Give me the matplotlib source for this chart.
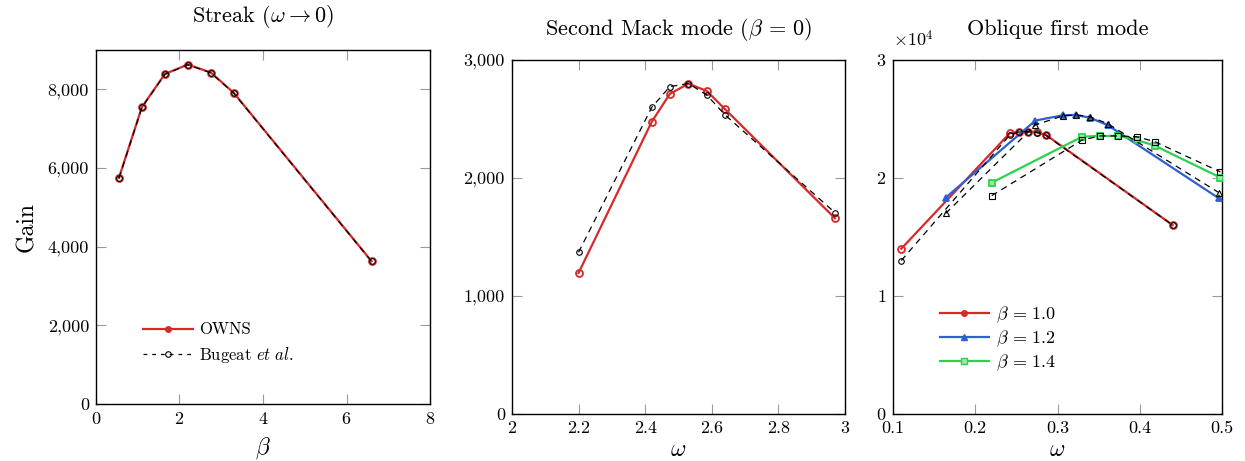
import matplotlib
matplotlib.use("Agg")
import matplotlib.pyplot as plt
from matplotlib.ticker import FuncFormatter, MultipleLocator

plt.rcParams.update({
    "font.family": "serif",
    "font.serif": ["cmr10"],
    "mathtext.fontset": "cm",
    "axes.formatter.use_mathtext": True,
    "axes.unicode_minus": False,
    "font.size": 13,
})

RED = "#d62a2a"
BLUE = "#2e5fd3"
GREEN = "#2bd24f"

# streak (omega -> 0)
streak_beta = [0.55, 1.1, 1.65, 2.2, 2.75, 3.3, 6.6]
streak_owns = [5750, 7550, 8390, 8630, 8425, 7910, 3630]
streak_bugeat = [5740, 7540, 8380, 8625, 8420, 7900, 3625]

# second Mack mode (beta = 0)
mack_omega = [2.2, 2.42, 2.474, 2.53, 2.585, 2.64, 2.97]
mack_owns = [1195, 2477, 2712, 2799, 2737, 2582, 1658]
mack_bugeat = [1370, 2599, 2774, 2800, 2703, 2534, 1706]

# oblique first mode, gains in units of 1e4
obl_omega_10 = [0.11, 0.242, 0.253, 0.264, 0.275, 0.286, 0.44]
obl_owns_10 = [1.40, 2.38, 2.39, 2.392, 2.387, 2.364, 1.60]
obl_bugeat_10 = [1.30, 2.364, 2.39, 2.392, 2.385, 2.36, 1.60]

obl_omega_12 = [0.164, 0.273, 0.306, 0.322, 0.339, 0.361, 0.496]
obl_owns_12 = [1.833, 2.486, 2.531, 2.534, 2.511, 2.447, 1.828]
obl_bugeat_12 = [1.70, 2.449, 2.525, 2.534, 2.52, 2.46, 1.876]

obl_omega_14 = [0.22, 0.33, 0.352, 0.374, 0.396, 0.418, 0.498]
obl_owns_14 = [1.96, 2.35, 2.356, 2.356, 2.322, 2.274, 2.003]
obl_bugeat_14 = [1.85, 2.322, 2.356, 2.356, 2.35, 2.308, 2.051]


def style_axes(ax):
    ax.tick_params(direction="in", top=True, right=True, length=7,
                   width=0.8, color="#9a9a9a", labelsize=13, pad=5)
    for s in ax.spines.values():
        s.set_linewidth(1.0)


def owns(ax, x, y, color, marker="o", **kw):
    face = "none" if marker == "o" else color
    return ax.plot(x, y, color=color, lw=1.6, marker=marker, ms=5,
                   mfc=face, mec=color, mew=1.3, zorder=3, **kw)[0]


def bugeat(ax, x, y, marker="o", **kw):
    return ax.plot(x, y, color="black", lw=0.9, ls=(0, (5, 4)), marker=marker,
                   ms=4, mfc="none", mec="black", mew=0.8, zorder=4, **kw)[0]


fig = plt.figure(figsize=(12.45, 4.61), dpi=100)
ax1 = fig.add_axes([0.0771, 0.1236, 0.2683, 0.768])
ax2 = fig.add_axes([0.4112, 0.1020, 0.2675, 0.768])
ax3 = fig.add_axes([0.7173, 0.1020, 0.2643, 0.768])

comma = FuncFormatter(lambda v, p: f"{v:,.0f}")

# panel 1
bugeat(ax1, streak_beta, streak_bugeat)
owns(ax1, streak_beta, streak_owns, RED)
ax1.set_xlim(0, 8)
ax1.set_ylim(0, 9000)
ax1.xaxis.set_major_locator(MultipleLocator(2))
ax1.yaxis.set_major_locator(MultipleLocator(2000))
ax1.yaxis.set_major_formatter(comma)
ax1.set_xlabel(r"$\beta$", fontsize=17, labelpad=6)
ax1.set_ylabel("Gain", fontsize=17, labelpad=7)
ax1.set_title(r"Streak ($\omega \to 0$)", fontsize=16, pad=20)
style_axes(ax1)
lh_own = plt.Line2D([], [], color=RED, lw=1.6, marker="o", ms=4, mfc=RED, mec=RED)
lh_bug = plt.Line2D([], [], color="black", lw=0.9, ls=(0, (3, 4)), marker="o",
                    ms=4, mfc="none", mec="black", mew=0.8)
ax1.legend([lh_own, lh_bug], ["OWNS", r"Bugeat $\it{et\ al.}$"], frameon=False,
           loc="upper left", bbox_to_anchor=(0.115, 0.255), fontsize=12,
           handlelength=3.0, handletextpad=0.4, labelspacing=0.45, borderpad=0)

# panel 2
bugeat(ax2, mack_omega, mack_bugeat)
owns(ax2, mack_omega, mack_owns, RED)
ax2.set_xlim(2, 3)
ax2.set_ylim(0, 3000)
ax2.set_xticks([2, 2.2, 2.4, 2.6, 2.8, 3])
ax2.set_xticklabels(["2", "2.2", "2.4", "2.6", "2.8", "3"])
ax2.yaxis.set_major_locator(MultipleLocator(1000))
ax2.yaxis.set_major_formatter(comma)
ax2.set_xlabel(r"$\omega$", fontsize=17, labelpad=2)
ax2.set_title(r"Second Mack mode ($\beta \,=\, 0$)", fontsize=16, pad=18)
style_axes(ax2)

# panel 3
bugeat(ax3, obl_omega_10, obl_bugeat_10, marker="o")
bugeat(ax3, obl_omega_12, obl_bugeat_12, marker="^")
bugeat(ax3, obl_omega_14, obl_bugeat_14, marker="s")
owns(ax3, obl_omega_10, obl_owns_10, RED, marker="o")
owns(ax3, obl_omega_12, obl_owns_12, BLUE, marker="^")
ax3.plot(obl_omega_14, obl_owns_14, color=GREEN, lw=1.6, marker="s", ms=5,
         mfc="#9be8ad", mec=GREEN, mew=1.3, zorder=3)
ax3.set_xlim(0.1, 0.5)
ax3.set_ylim(0, 3)
ax3.set_xticks([0.1, 0.2, 0.3, 0.4, 0.5])
ax3.set_xticklabels(["0.1", "0.2", "0.3", "0.4", "0.5"])
ax3.set_yticks([0, 1, 2, 3])
ax3.set_xlabel(r"$\omega$", fontsize=17, labelpad=2)
ax3.set_title("Oblique first mode", fontsize=16, pad=18)
ax3.text(0.0, 1.03, r"$\times 10^4$", transform=ax3.transAxes, fontsize=13,
         ha="left", va="bottom")
style_axes(ax3)
lh10 = plt.Line2D([], [], color=RED, lw=1.6, marker="o", ms=4, mfc=RED, mec=RED)
lh12 = plt.Line2D([], [], color=BLUE, lw=1.6, marker="^", ms=5, mfc=BLUE, mec=BLUE)
lh14 = plt.Line2D([], [], color=GREEN, lw=1.6, marker="s", ms=4, mfc="#9be8ad", mec=GREEN)
ax3.legend([lh10, lh12, lh14],
           [r"$\beta \,=\, 1.0$", r"$\beta \,=\, 1.2$", r"$\beta \,=\, 1.4$"],
           frameon=False, loc="upper left", bbox_to_anchor=(0.115, 0.335), fontsize=13,
           handlelength=2.7, handletextpad=0.4, labelspacing=0.2, borderpad=0)

fig.savefig("out.png", dpi=100)
